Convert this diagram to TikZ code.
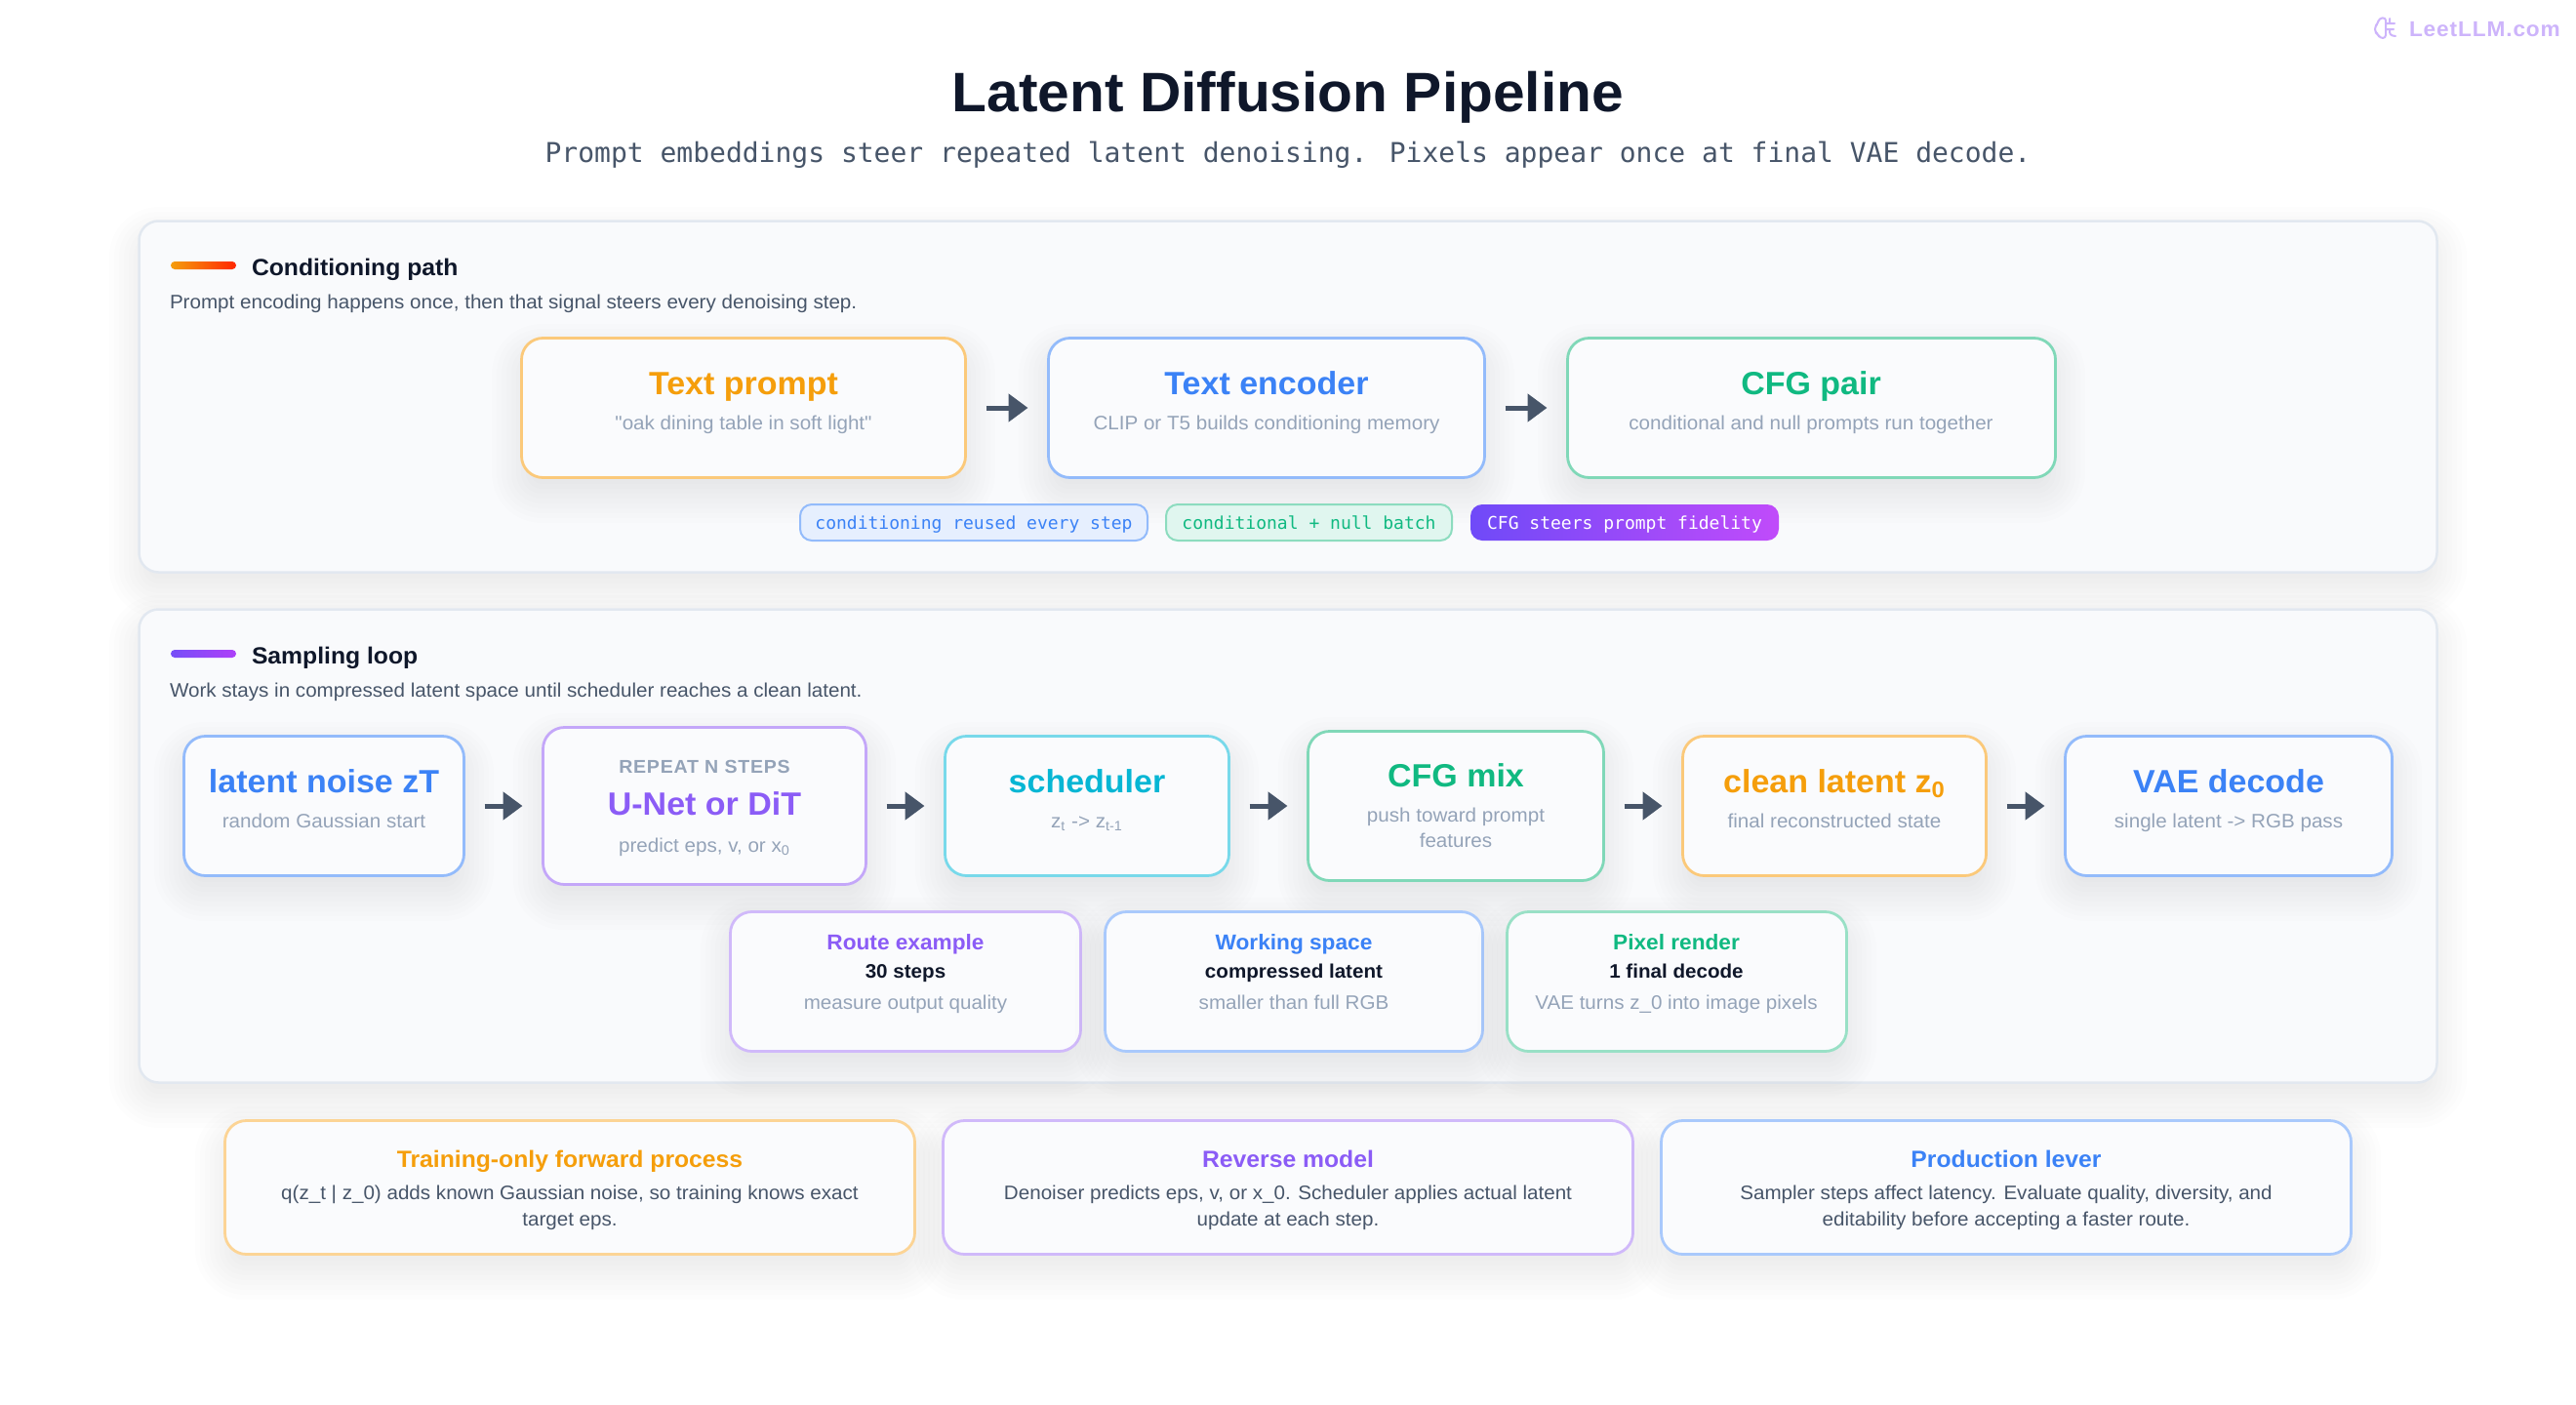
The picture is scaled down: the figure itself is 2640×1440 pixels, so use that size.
\documentclass[tikz,border=0pt]{standalone}
\usepackage{fontspec}
\usetikzlibrary{arrows.meta}
\newfontfamily\inter{Liberation Sans}[FakeStretch=1.03]
\newfontfamily\interls{Liberation Sans}[FakeStretch=1.03,LetterSpace=4]
\newfontfamily\jbm{DejaVu Sans Mono}
\newcommand{\tsz}[1]{\fontsize{#1}{#1}\selectfont}
\definecolor{ink}{HTML}{0F172A}
\definecolor{slate}{HTML}{475569}
\definecolor{muted}{HTML}{94A3B8}
\definecolor{panelfill}{HTML}{F9FAFC}
\definecolor{panelline}{HTML}{E2E8F0}
\definecolor{cardfill}{HTML}{FAFBFD}
\definecolor{corange}{HTML}{F59E0B}
\definecolor{cblue}{HTML}{3B82F6}
\definecolor{cgreen}{HTML}{10B981}
\definecolor{cpurple}{HTML}{8B5CF6}
\definecolor{ccyan}{HTML}{06B6D4}
\definecolor{lorange}{HTML}{FBC97A}
\definecolor{lblue}{HTML}{93BBFB}
\definecolor{lgreen}{HTML}{80D8B8}
\definecolor{lpurple}{HTML}{C4A7F9}
\definecolor{lcyan}{HTML}{78D9EA}
\definecolor{arrowc}{HTML}{475569}
\definecolor{logoc}{HTML}{CDB4FB}
\tikzset{
  panelbox/.style={draw=panelline,fill=panelfill,line width=1.25pt,rounded corners=10pt,inner sep=0,outer sep=0},
  cardbase/.style={fill=cardfill,line width=1.4pt,rounded corners=11pt,inner sep=0,outer sep=0},
  txt/.style={anchor=base,inner sep=0,outer sep=0},
  ltxt/.style={anchor=base west,inner sep=0,outer sep=0},
  maintitle/.style={txt,text=ink,font=\inter\bfseries\tsz{28.5}},
  subtitle/.style={txt,text=slate,font=\jbm\tsz{14}},
  head/.style={ltxt,text=ink,font=\inter\bfseries\tsz{12}},
  headsub/.style={ltxt,text=slate,font=\inter\tsz{10}},
  cardtitle/.style={txt,font=\inter\bfseries\tsz{16.5}},
  cardsub/.style={txt,text=muted,font=\inter\tsz{10}},
  smalltitle/.style={txt,font=\inter\bfseries\tsz{11}},
  smallbold/.style={txt,text=ink,font=\inter\bfseries\tsz{10}},
  bottomtitle/.style={txt,font=\inter\bfseries\tsz{12}},
  bottombody/.style={txt,text=slate,font=\inter\tsz{10}},
  tagbox/.style={line width=1pt,rounded corners=6pt,inner sep=0,outer sep=0,font=\jbm\tsz{9},text height=8pt,text depth=1.5pt},
  accentbar/.style={rounded corners=2pt,inner sep=0,outer sep=0,minimum width=33.5pt,minimum height=4pt},
  flow/.style={draw=arrowc,line width=2.5pt,-{Triangle[length=10pt,width=14pt,fill=arrowc]},shorten <=10.5pt,shorten >=10.5pt},
}
\newcommand{\softshadow}[4]{%
  \foreach \sst in {-26,-21,...,29}{%
    \pgfmathsetmacro{\ssr}{max(6,22+\sst)*0.5}%
    \fill[ink,fill opacity=0.0095,rounded corners=\ssr pt]
      ({#1-\sst},{#2+16-\sst}) rectangle ({#3+\sst},{#4+16+\sst});
  }}
% #1 style, #2 name, #3 x1, #4 y1, #5 x2, #6 y2
\newcommand{\cardbox}[6]{%
  \softshadow{#3}{#4}{#5}{#6}%
  \node[#1,minimum width={(#5-#3-3)*0.5pt},minimum height={(#6-#4-3)*0.5pt}] (#2) at ({(#3+#5)/2},{(#4+#6)/2}) {};
}
\newcommand{\tagpill}[7]{% style, name, x1,y1,x2,y2, text
  \node[tagbox,#1,minimum width={(#5-#3-2)*0.5pt},minimum height={(#6-#4-2)*0.5pt}] (#2) at ({(#3+#5)/2},{(#4+#6)/2}) {#7};
}
\begin{document}
\begin{tikzpicture}[x=0.5pt,y=-0.5pt]
\useasboundingbox (0,0) rectangle (2640,1440);
\fill[white] (0,0) rectangle (2640,1440);

% logo
\node[ltxt,text=logoc,font=\interls\bfseries\tsz{11}] (logo) at (2469,38) {LeetLLM.com};
\draw[logoc,line width=1pt,line cap=round,line join=round,rounded corners=1.5pt]
  (2445,18) -- (2438,19) -- (2437,24) -- (2434,27) -- (2434,33) -- (2437,35) -- (2439,39) -- (2445,39) -- cycle
  (2445,24) -- (2454,24) (2445,30) -- (2453,30) (2449,30) -- (2449,36) -- (2455,37) (2449,19) -- (2449,24);

\node[maintitle] (title) at (1320,114) {Latent Diffusion Pipeline};
\node[subtitle] (subtitle) at (1320,166) {Prompt embeddings steer repeated latent denoising. Pixels appear once at final VAE decode.};

% Panel 1
\cardbox{panelbox}{panelA}{141}{225}{2499}{588}
\node[accentbar,left color=corange,right color=red!70!orange] (barA) at (208.5,272) {};
\node[head] (headA) at (258,282) {Conditioning path};
\node[headsub] (subA) at (174,316) {Prompt encoding happens once, then that signal steers every denoising step.};

\cardbox{cardbase,draw=lorange}{prompt}{533}{345}{991}{491}
\node[cardtitle,text=corange] (promptT) at (762,404) {Text prompt};
\node[cardsub] (promptS) at (762,440) {"oak dining table in soft light"};
\cardbox{cardbase,draw=lblue}{encoder}{1073}{345}{1523}{491}
\node[cardtitle,text=cblue] (encoderT) at (1298,404) {Text encoder};
\node[cardsub] (encoderS) at (1298,440) {CLIP or T5 builds conditioning memory};
\cardbox{cardbase,draw=lgreen}{cfgpair}{1605}{345}{2108}{491}
\node[cardtitle,text=cgreen] (cfgpairT) at (1856,404) {CFG pair};
\node[cardsub] (cfgpairS) at (1856,440) {conditional and null prompts run together};
\draw[flow] (prompt.east) -- (prompt.east -| encoder.west);
\draw[flow] (encoder.east) -- (encoder.east -| cfgpair.west);

\tagpill{draw=lblue,fill=cblue!13!white,text=cblue}{tagA}{819}{516}{1177}{555}{conditioning reused every step}
\tagpill{draw=lgreen!90!white,fill=cgreen!13!white,text=cgreen}{tagB}{1194}{516}{1489}{555}{conditional + null batch}
\tagpill{left color=violet!0!cpurple!80!blue,right color=cpurple!60!magenta!90!white,text=white}{tagC}{1506}{516}{1824}{555}{CFG steers prompt fidelity}

% Panel 2
\cardbox{panelbox}{panelB}{141}{623}{2499}{1111}
\node[accentbar,left color=cpurple!85!blue,right color=cpurple!70!magenta] (barB) at (208.5,670) {};
\node[head] (headB) at (258,680) {Sampling loop};
\node[headsub] (subB) at (174,714) {Work stays in compressed latent space until scheduler reaches a clean latent.};

\cardbox{cardbase,draw=lblue}{noise}{187}{753}{477}{899}
\node[cardtitle,text=cblue] (noiseT) at (332,812) {latent noise zT};
\node[cardsub] (noiseS) at (332,848) {random Gaussian start};
\cardbox{cardbase,draw=lpurple}{unet}{555}{744}{889}{908}
\node[txt,text=muted,font=\interls\bfseries\tsz{9.5}] (unetK) at (722,792) {REPEAT N STEPS};
\node[cardtitle,text=cpurple] (unetT) at (722,835) {U-Net or DiT};
\node[cardsub] (unetS) at (722,873) {predict eps, v, or x\textsubscript{0}};
\cardbox{cardbase,draw=lcyan}{sched}{967}{753}{1261}{899}
\node[cardtitle,text=ccyan] (schedT) at (1114,812) {scheduler};
\node[cardsub] (schedS) at (1114,848) {z\textsubscript{t} -> z\textsubscript{t-1}};
\cardbox{cardbase,draw=lgreen}{cfgmix}{1339}{748}{1645}{904}
\node[cardtitle,text=cgreen] (cfgmixT) at (1492,806) {CFG mix};
\node[cardsub] (cfgmixS) at (1492,842) {push toward prompt};
\node[cardsub] (cfgmixU) at (1492,868) {features};
\cardbox{cardbase,draw=lorange}{clean}{1723}{753}{2037}{899}
\node[cardtitle,text=corange] (cleanT) at (1880,812) {clean latent z\textsubscript{0}};
\node[cardsub] (cleanS) at (1880,848) {final reconstructed state};
\cardbox{cardbase,draw=lblue}{vae}{2115}{753}{2453}{899}
\node[cardtitle,text=cblue] (vaeT) at (2284,812) {VAE decode};
\node[cardsub] (vaeS) at (2284,848) {single latent -> RGB pass};
\draw[flow] (noise.east) -- (noise.east -| unet.west);
\draw[flow] (noise.east -| unet.east) -- (noise.east -| sched.west);
\draw[flow] (sched.east) -- (sched.east -| cfgmix.west);
\draw[flow] (sched.east -| cfgmix.east) -- (sched.east -| clean.west);
\draw[flow] (clean.east) -- (clean.east -| vae.west);

\cardbox{cardbase,draw=lpurple!80!white}{route}{747}{933}{1109}{1079}
\node[smalltitle,text=cpurple] (routeT) at (928,973) {Route example};
\node[smallbold] (routeB) at (928,1002) {30 steps};
\node[cardsub] (routeS) at (928,1034) {measure output quality};
\cardbox{cardbase,draw=lblue!80!white}{space}{1131}{933}{1521}{1079}
\node[smalltitle,text=cblue] (spaceT) at (1326,973) {Working space};
\node[smallbold] (spaceB) at (1326,1002) {compressed latent};
\node[cardsub] (spaceS) at (1326,1034) {smaller than full RGB};
\cardbox{cardbase,draw=lgreen!80!white}{pixel}{1543}{933}{1894}{1079}
\node[smalltitle,text=cgreen] (pixelT) at (1718,973) {Pixel render};
\node[smallbold] (pixelB) at (1718,1002) {1 final decode};
\node[cardsub] (pixelS) at (1718,1034) {VAE turns z\_0 into image pixels};

% Bottom cards
\cardbox{cardbase,draw=lorange!80!white}{train}{229}{1147}{939}{1287}
\node[bottomtitle,text=corange] (trainT) at (584,1196) {Training-only forward process};
\node[bottombody] (trainA) at (584,1229) {q(z\_t | z\_0) adds known Gaussian noise, so training knows exact};
\node[bottombody] (trainB) at (584,1256) {target eps.};
\cardbox{cardbase,draw=lpurple!80!white}{reverse}{965}{1147}{1675}{1287}
\node[bottomtitle,text=cpurple] (reverseT) at (1320,1196) {Reverse model};
\node[bottombody] (reverseA) at (1320,1229) {Denoiser predicts eps, v, or x\_0. Scheduler applies actual latent};
\node[bottombody] (reverseB) at (1320,1256) {update at each step.};
\cardbox{cardbase,draw=lblue!80!white}{prod}{1701}{1147}{2411}{1287}
\node[bottomtitle,text=cblue] (prodT) at (2056,1196) {Production lever};
\node[bottombody] (prodA) at (2056,1229) {Sampler steps affect latency. Evaluate quality, diversity, and};
\node[bottombody] (prodB) at (2056,1256) {editability before accepting a faster route.};
\end{tikzpicture}
\end{document}
